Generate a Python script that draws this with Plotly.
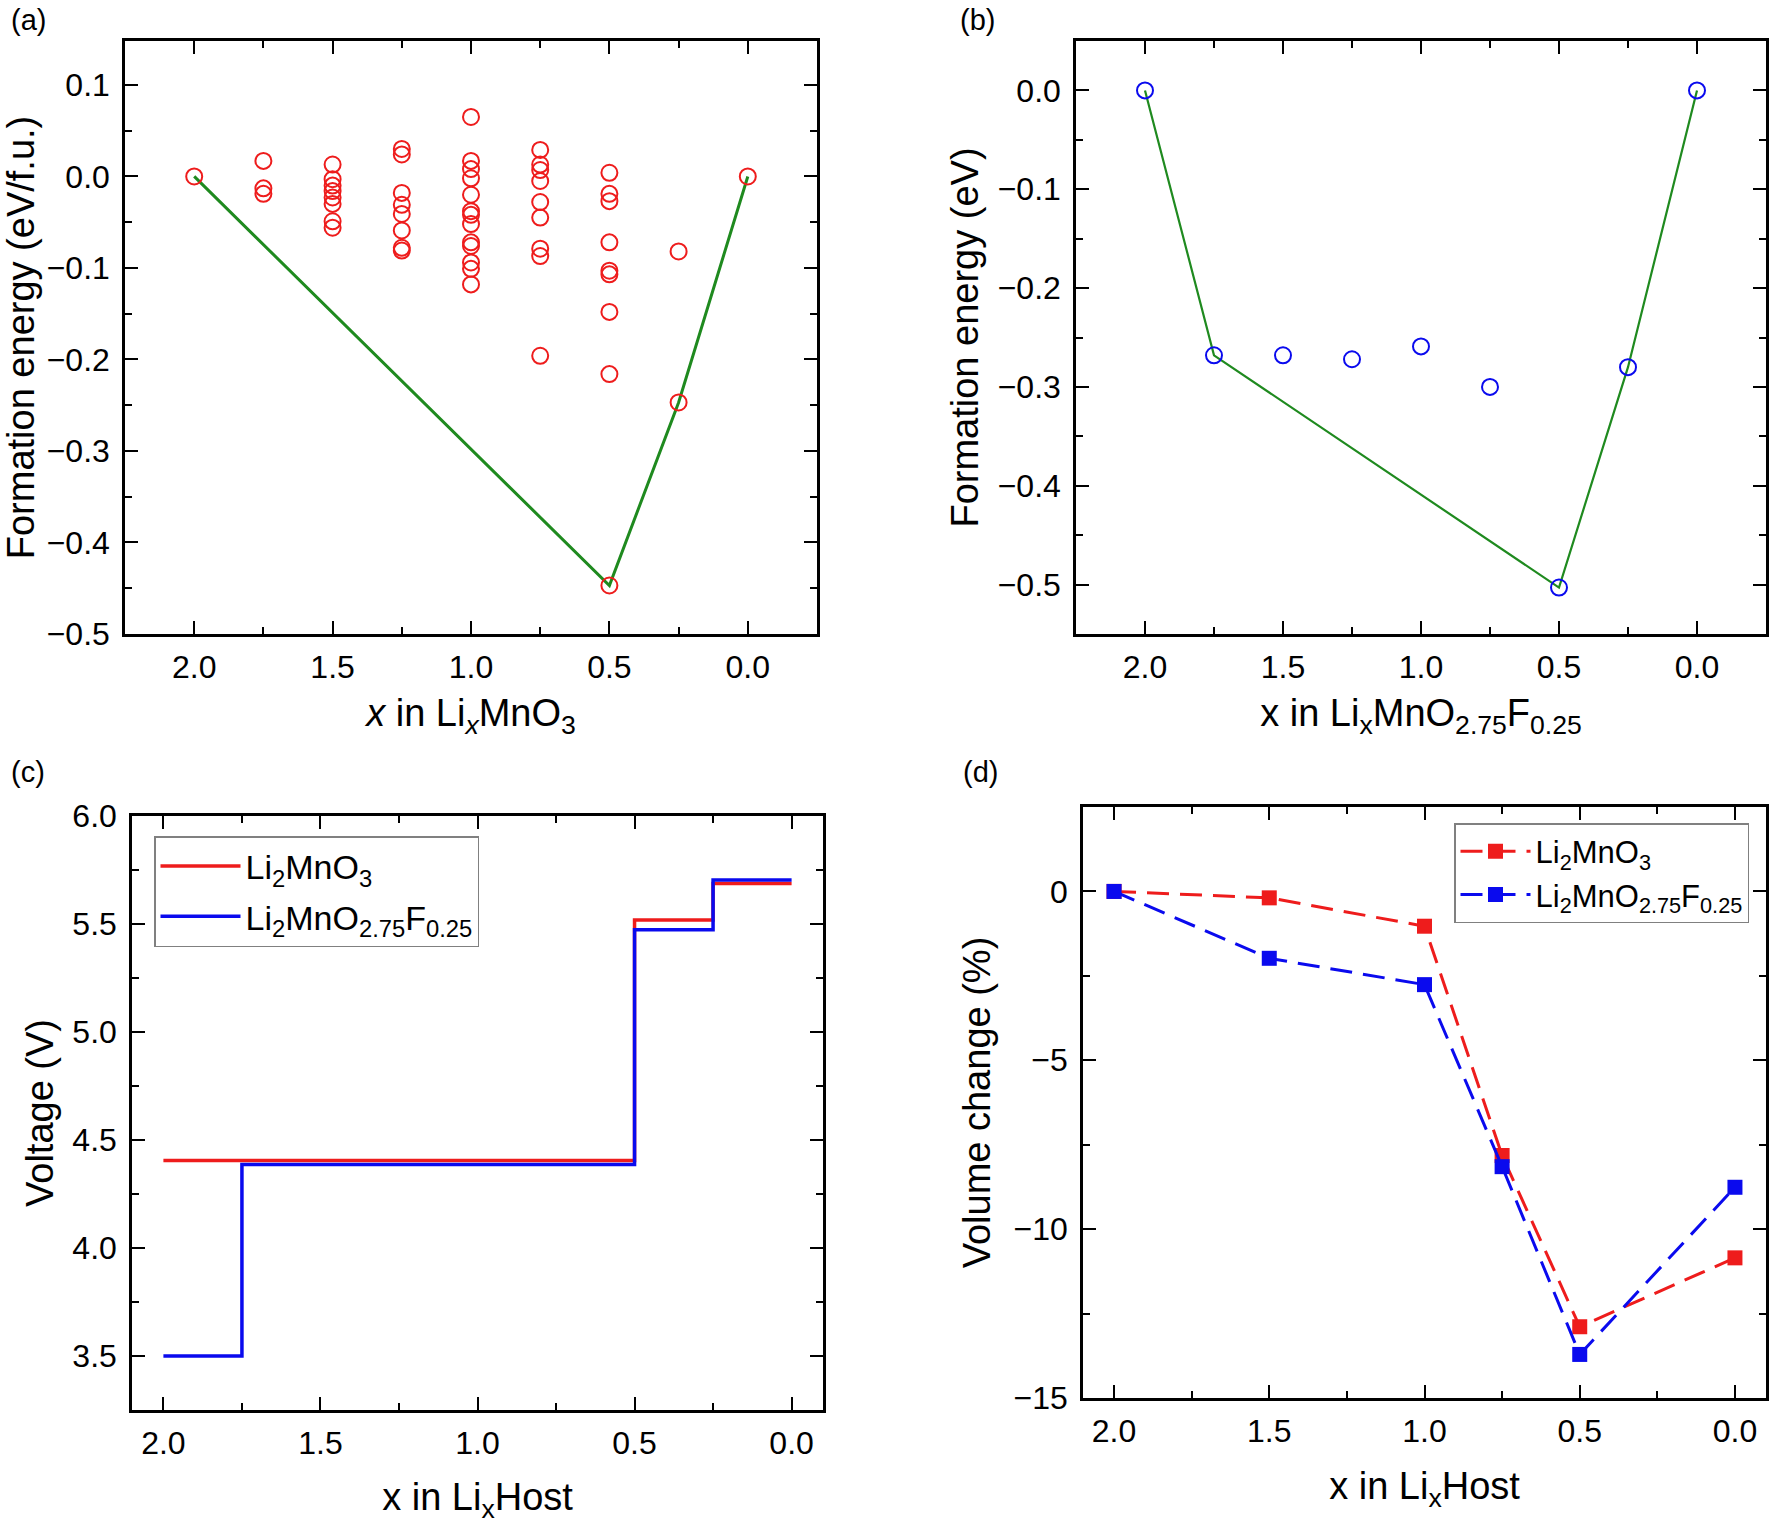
import plotly.graph_objects as go

# ---------------- data ----------------
# (a) formation energies of Li_xMnO3 configurations (eV/f.u.)
a_comp = [2.0, 1.75, 1.5, 1.25, 1.0, 0.75, 0.5, 0.25, 0.0]
a_energy = [
    [0.0],
    [0.017, -0.013, -0.019],
    [0.013, -0.003, -0.010, -0.016, -0.023, -0.030, -0.049, -0.056],
    [0.030, 0.024, -0.018, -0.031, -0.041, -0.059, -0.078, -0.081],
    [0.065, 0.017, 0.008, -0.002, -0.020, -0.038, -0.042, -0.052, -0.072,
     -0.076, -0.094, -0.101, -0.118],
    [0.029, 0.013, 0.007, -0.005, -0.028, -0.045, -0.079, -0.087, -0.196],
    [0.004, -0.019, -0.027, -0.072, -0.103, -0.107, -0.148, -0.216, -0.447],
    [-0.082, -0.247],
    [0.0],
]
a_hull_x = [2.0, 0.5, 0.25, 0.0]
a_hull_y = [0.0, -0.447, -0.247, 0.0]

# (b) formation energies of Li_xMnO2.75F0.25 (eV)
b_x = [2.0, 1.75, 1.5, 1.25, 1.0, 0.75, 0.5, 0.25, 0.0]
b_y = [0.0, -0.268, -0.268, -0.272, -0.259, -0.300, -0.503, -0.280, 0.0]
b_hull_x = [2.0, 1.75, 0.5, 0.25, 0.0]
b_hull_y = [0.0, -0.268, -0.503, -0.280, 0.0]

# (c) voltage profiles (step boundaries and plateau voltages)
c_red_bounds = [2.0, 0.5, 0.25, 0.0]
c_red_volt = [4.405, 5.518, 5.688]
c_blue_bounds = [2.0, 1.75, 0.5, 0.25, 0.0]
c_blue_volt = [3.50, 4.387, 5.473, 5.704]

# (d) volume change (%)
d_x = [2.0, 1.5, 1.0, 0.75, 0.5, 0.0]
d_red = [0.0, -0.19, -1.03, -7.82, -12.89, -10.85]
d_blue = [0.0, -1.98, -2.76, -8.15, -13.71, -8.76]

name_red = "Li<sub>2</sub>MnO<sub>3</sub>"
name_blue = "Li<sub>2</sub>MnO<sub>2.75</sub>F<sub>0.25</sub>"

RED = "#EE1C1C"
BLUE = "#0A0AEE"
GREEN = "#1F8A1F"
FONT = "Liberation Sans, Arial, sans-serif"
TICK_SIZE = 32
TITLE_SIZE = 38

W, H = 1772, 1524

fig = go.Figure()

# (a)
ax_pts, ay_pts = [], []
for c, ys in zip(a_comp, a_energy):
    for v in ys:
        ax_pts.append(c)
        ay_pts.append(v)
fig.add_trace(go.Scatter(x=a_hull_x, y=a_hull_y, mode="lines",
                         line=dict(color=GREEN, width=3), showlegend=False,
                         xaxis="x", yaxis="y"))
fig.add_trace(go.Scatter(x=ax_pts, y=ay_pts, mode="markers",
                         marker=dict(symbol="circle-open", size=16, color=RED,
                                     line=dict(width=2, color=RED)),
                         showlegend=False, xaxis="x", yaxis="y"))

# (b)
fig.add_trace(go.Scatter(x=b_hull_x, y=b_hull_y, mode="lines",
                         line=dict(color=GREEN, width=2.2), showlegend=False,
                         xaxis="x2", yaxis="y2"))
fig.add_trace(go.Scatter(x=b_x, y=b_y, mode="markers",
                         marker=dict(symbol="circle-open", size=16, color=BLUE,
                                     line=dict(width=2, color=BLUE)),
                         showlegend=False, xaxis="x2", yaxis="y2"))

# (c)
fig.add_trace(go.Scatter(x=c_red_bounds, y=c_red_volt + [c_red_volt[-1]],
                         mode="lines", line=dict(color=RED, width=3.5, shape="hv"),
                         name=name_red, legend="legend", legendgroup="cr",
                         xaxis="x3", yaxis="y3"))
fig.add_trace(go.Scatter(x=c_blue_bounds, y=c_blue_volt + [c_blue_volt[-1]],
                         mode="lines", line=dict(color=BLUE, width=3.5, shape="hv"),
                         name=name_blue, legend="legend", legendgroup="cb",
                         xaxis="x3", yaxis="y3"))

# (d)
fig.add_trace(go.Scatter(x=d_x, y=d_red, mode="lines+markers",
                         line=dict(color=RED, width=3, dash="22px,11px"),
                         marker=dict(symbol="square", size=15, color=RED),
                         name=name_red, legend="legend2", legendgroup="dr",
                         xaxis="x4", yaxis="y4"))
fig.add_trace(go.Scatter(x=d_x, y=d_blue, mode="lines+markers",
                         line=dict(color=BLUE, width=3, dash="22px,11px"),
                         marker=dict(symbol="square", size=15, color=BLUE),
                         name=name_blue, legend="legend2", legendgroup="db",
                         xaxis="x4", yaxis="y4"))


def axis(domain, rng, dtick, mdtick, fmt, anchor, title, standoff, lab_off):
    return dict(
        domain=domain, range=rng, dtick=dtick, tick0=0, tickformat=fmt,
        ticks="inside", ticklen=13, tickwidth=2, tickcolor="black",
        minor=dict(ticks="inside", ticklen=7, tickwidth=2, dtick=mdtick,
                   tick0=0, tickcolor="black", showgrid=False),
        showline=True, linewidth=2.5, linecolor="black", mirror="ticks",
        showgrid=False, zeroline=False, anchor=anchor,
        tickfont=dict(size=TICK_SIZE, color="black", family=FONT),
        ticklabelstandoff=lab_off,
        title=dict(text=title, font=dict(size=TITLE_SIZE, color="black", family=FONT),
                   standoff=standoff),
        automargin=False,
    )


def fx(p):
    return p / W


def fy(p):
    return 1 - p / H


title_a = "<i>x</i> in Li<sub><i>x</i></sub>MnO<sub>3</sub>"
title_b = "x in Li<sub>x</sub>MnO<sub>2.75</sub>F<sub>0.25</sub>"
title_cd = "x in Li<sub>x</sub>Host"

fig.update_layout(
    width=W, height=H,
    margin=dict(l=0, r=0, t=0, b=0),
    paper_bgcolor="white", plot_bgcolor="white",
    font=dict(family=FONT, color="black"),
    xaxis=axis([fx(125), fx(817)], [2.25, -0.25], 0.5, 0.25, ".1f", "y",
               title_a, 16, 3),
    yaxis=axis([fy(634), fy(41)], [-0.5, 0.148], 0.1, 0.05, ".1f", "x",
               "Formation energy (eV/f.u.)", 8, 6),
    xaxis2=axis([fx(1076), fx(1766)], [2.25, -0.25], 0.5, 0.25, ".1f", "y2",
                title_b, 16, 3),
    yaxis2=axis([fy(634), fy(41)], [-0.55, 0.05], 0.1, 0.05, ".1f", "x2",
                "Formation energy (eV)", 8, 6),
    xaxis3=axis([fx(132), fx(823)], [2.1, -0.1], 0.5, 0.25, ".1f", "y3",
                title_cd, 25, 3),
    yaxis3=axis([fy(1410), fy(816)], [3.25, 6.0], 0.5, 0.25, ".1f", "x3",
                "Voltage (V)", 8, 6),
    xaxis4=axis([fx(1083), fx(1766)], [2.1, -0.1], 0.5, 0.25, ".1f", "y4",
                title_cd, 25, 3),
    yaxis4=axis([fy(1398), fy(807)], [-15, 2.5], 5, 2.5, "d", "x4",
                "Volume change (%)", 12, 6),
    legend=dict(x=fx(154), y=fy(836), xanchor="left", yanchor="top",
                bgcolor="white", bordercolor="#808080", borderwidth=1.5,
                font=dict(size=34, color="black", family=FONT),
                tracegroupgap=3, itemwidth=80),
    legend2=dict(x=fx(1454), y=fy(823), xanchor="left", yanchor="top",
                 bgcolor="white", bordercolor="#808080", borderwidth=1.5,
                 font=dict(size=31, color="black", family=FONT),
                 tracegroupgap=0, itemwidth=70),
    showlegend=True,
)

for txt, px, py in [("(a)", 9, 20), ("(b)", 958, 20), ("(c)", 9, 772), ("(d)", 961, 772)]:
    fig.add_annotation(text=txt, x=fx(px), y=fy(py), xref="paper", yref="paper",
                       xanchor="left", yanchor="middle", showarrow=False,
                       font=dict(size=29, color="black", family=FONT))

fig.write_html("out.html",
               config={"displayModeBar": False},
               post_script="document.body.style.margin='0px';"
                           "document.body.style.overflow='hidden';")
